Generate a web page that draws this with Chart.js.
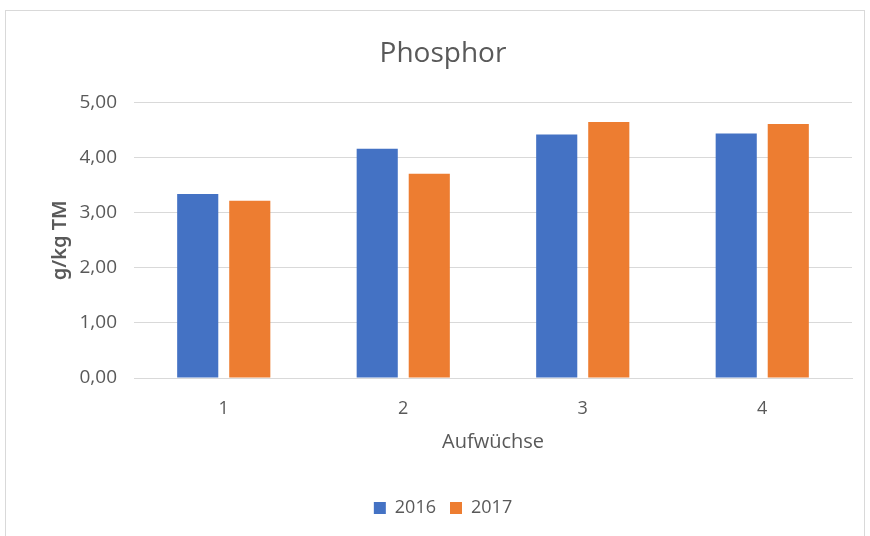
<!DOCTYPE html>
<html lang="de">
<head>
  <meta charset="UTF-8">
  <title>Phosphor</title>
  <script src="https://cdn.jsdelivr.net/npm/chart.js"></script>
  <style>
    body { margin: 0; background: #fff; }
    .frame { position: absolute; left: 5px; top: 10px; width: 860px; height: 540px; border: 1px solid #d9d9d9; box-sizing: border-box; }
    .wrap { position: absolute; left: 0; top: 0; width: 870px; height: 536px; }
  </style>
</head>
<body>
  <div class="frame"></div>
  <div class="wrap"><canvas id="myChart" width="870" height="536"></canvas></div>

  <script>
    const categories = ["1", "2", "3", "4"];
    const values2016 = [3.34, 4.16, 4.42, 4.44];
    const values2017 = [3.22, 3.71, 4.65, 4.61];
    const seriesNames = ["2016", "2017"];

    const textColor = "#595959";
    const fontFamily = "'Open Sans', 'Noto Sans', sans-serif";

    new Chart(document.getElementById("myChart"), {
      type: "bar",
      data: {
        labels: categories,
        datasets: [
          { label: seriesNames[0], data: values2016, backgroundColor: "#4472C4" },
          { label: seriesNames[1], data: values2017, backgroundColor: "#ED7D31" }
        ]
      },
      options: {
        responsive: false,
        animation: false,
        layout: { padding: { left: 34, right: 18, top: 30, bottom: 9 } },
        categoryPercentage: 0.58,
        barPercentage: 0.79,
        plugins: {
          title: {
            display: true,
            text: "Phosphor",
            color: textColor,
            font: { family: fontFamily, size: 28, weight: "normal" },
            padding: { top: 7, bottom: 32 }
          },
          legend: {
            position: "bottom",
            labels: {
              color: textColor,
              boxWidth: 12,
              boxHeight: 12,
              padding: 14,
              font: { family: fontFamily, size: 18 }
            }
          },
          tooltip: { enabled: false }
        },
        scales: {
          x: {
            afterFit: (scale) => { scale.height = 107; },
            grid: { display: false, drawTicks: false },
            border: { color: "#d9d9d9" },
            ticks: { color: textColor, font: { family: fontFamily, size: 18 }, padding: 20 },
            title: {
              display: true,
              text: "Aufwüchse",
              color: textColor,
              font: { family: fontFamily, size: 20 },
              padding: { top: 0, bottom: 31 }
            }
          },
          y: {
            min: 0,
            max: 5,
            afterFit: (scale) => { scale.width = 100; },
            grid: { color: "#d9d9d9", drawTicks: false },
            border: { display: false },
            ticks: {
              stepSize: 1,
              color: textColor,
              padding: 17,
              font: { family: fontFamily, size: 19 },
              callback: (v) => Number(v).toFixed(2).replace(".", ",")
            },
            title: {
              display: true,
              text: "g/kg TM",
              color: textColor,
              font: { family: "'Noto Sans', sans-serif", size: 20, weight: "600" },
              padding: { top: 14, bottom: 0 }
            }
          }
        }
      }
    });
  </script>
</body>
</html>
